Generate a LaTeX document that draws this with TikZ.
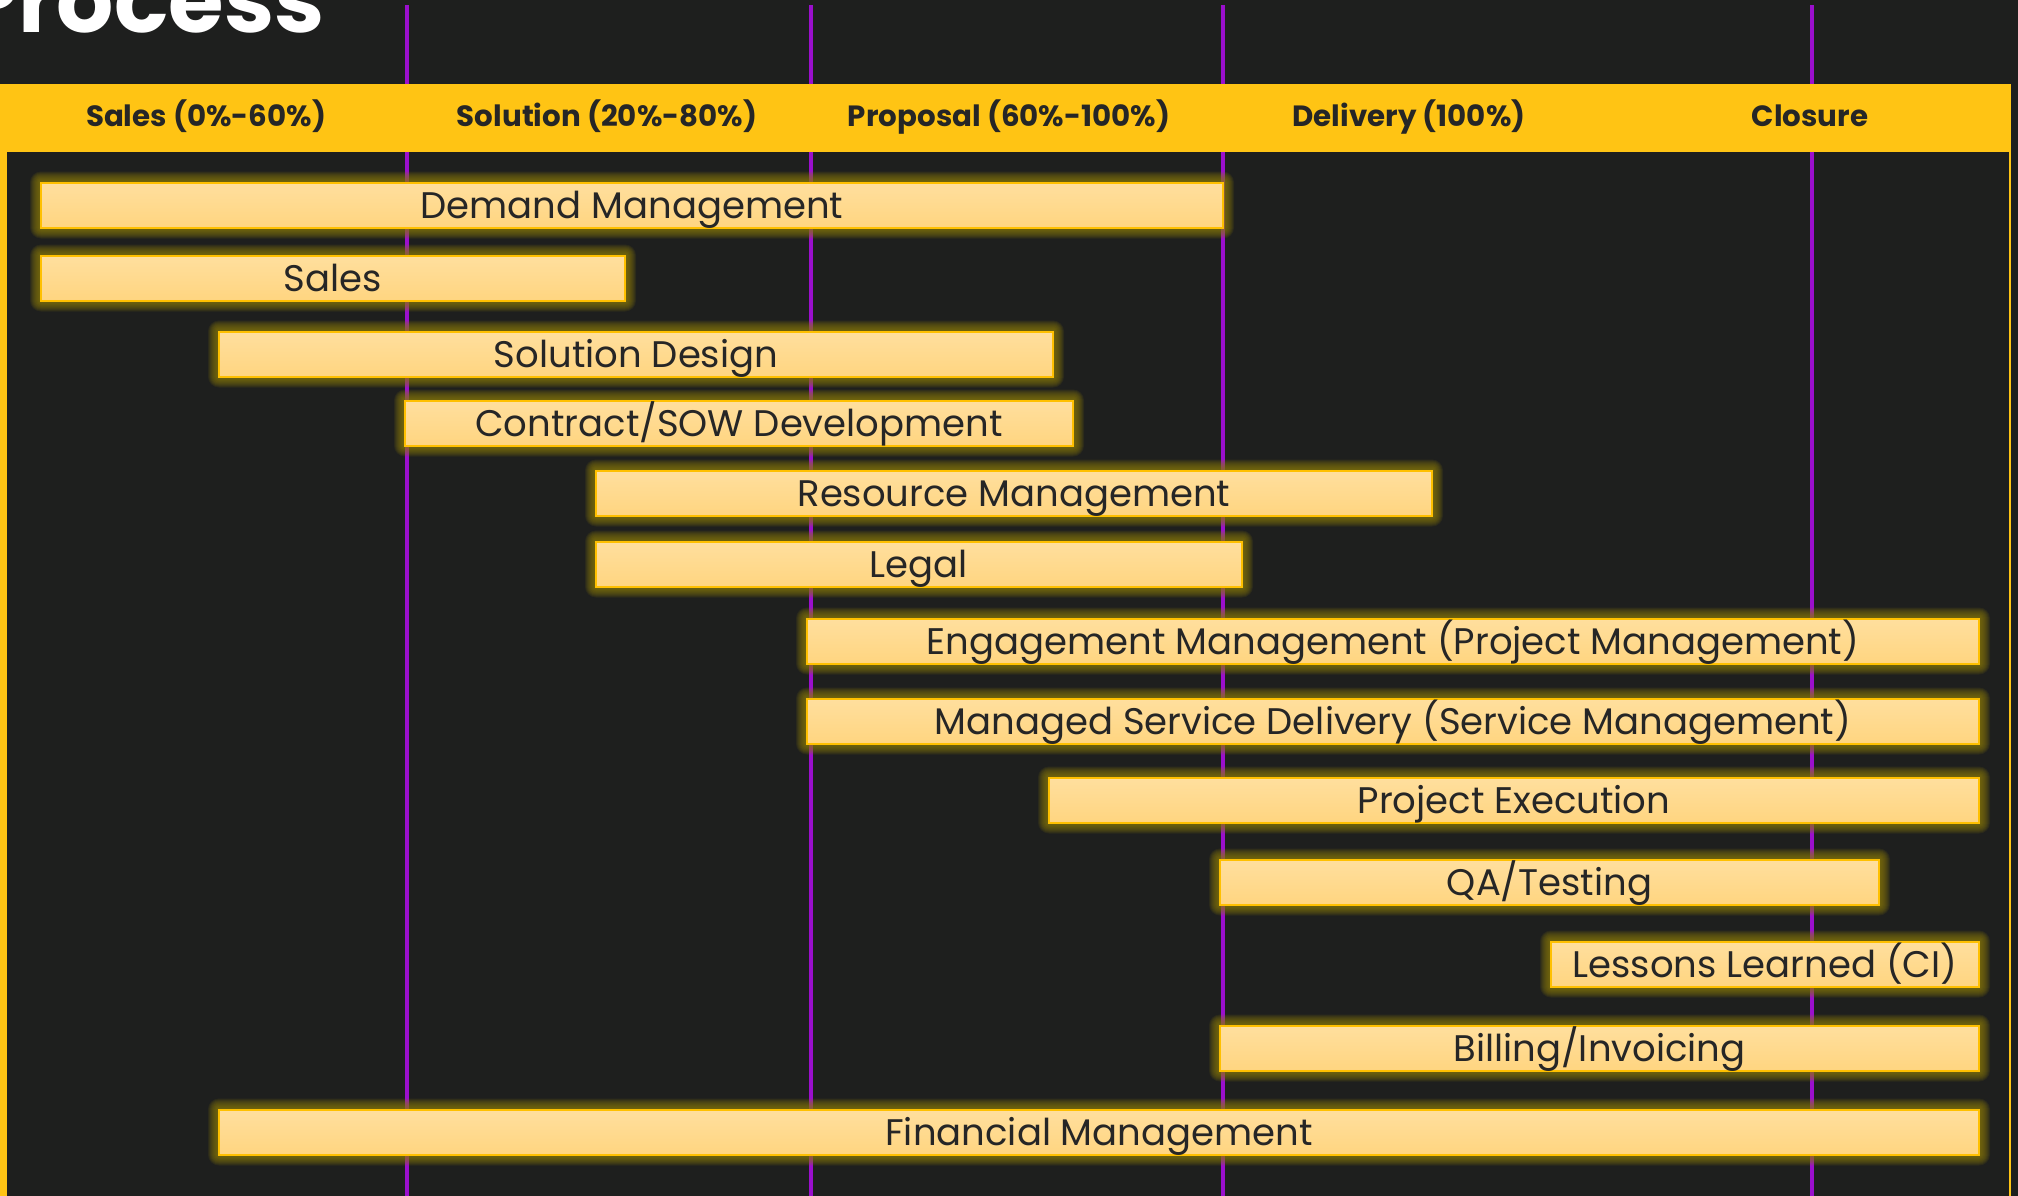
\documentclass[tikz,border=0pt]{standalone}
\usepackage{fontspec}
\setmainfont{Poppins}
\definecolor{bgc}{RGB}{30,31,30}
\definecolor{hdr}{RGB}{255,196,20}
\definecolor{purp}{RGB}{155,15,205}
\definecolor{bartop}{RGB}{255,223,158}
\definecolor{barbot}{RGB}{255,213,128}
\definecolor{barline}{RGB}{255,192,0}
\definecolor{glowc}{RGB}{138,122,10}
\definecolor{txt}{RGB}{38,38,38}
\pgfdeclarelayer{back}
\pgfdeclarelayer{glow}
\pgfsetlayers{back,glow,main}
% one bar of the chart: name, left, right, vertical centre, label
\newcommand\ganttbar[5]{%
  \begin{pgfonlayer}{glow}
    \foreach \g in {1,...,11}{%
      \fill[glowc, opacity=0.13, rounded corners=\g pt]
        ({#2-\g},{#4-22.5-\g}) rectangle ({#3+\g},{#4+22.5+\g});
    }%
  \end{pgfonlayer}
  \node[barbox, minimum width={#3-#2}] (#1) at ({(#2+#3)/2},#4) {#5};
}
\begin{document}
\begin{tikzpicture}[x=1pt,y=-1pt,
  barbox/.style={draw=barline, line width=2pt, top color=bartop, bottom color=barbot,
    minimum height=45pt, inner sep=0pt, text height=26.5pt, text depth=0pt,
    font=\fontsize{37}{39}\selectfont, text=txt},
  phase/.style={inner sep=0pt, text height=21.5pt, text depth=0pt,
    font=\fontsize{29.3}{31}\selectfont\bfseries, text=txt},
  divider/.style={draw=purp, line width=4pt}]
\useasboundingbox (0,0) rectangle (2018,1196);
\clip (0,0) rectangle (2018,1196);
\begin{pgfonlayer}{back}
  \fill[bgc] (0,0) rectangle (2018,1196);
  % phase dividers
  \coordinate (d1t) at (407,5);  \coordinate (d1b) at (407,1196);
  \coordinate (d2t) at (811,5);  \coordinate (d2b) at (811,1196);
  \coordinate (d3t) at (1223,5); \coordinate (d3b) at (1223,1196);
  \coordinate (d4t) at (1812,5); \coordinate (d4b) at (1812,1196);
  \draw[divider] (d1t) -- (d1b);
  \draw[divider] (d2t) -- (d2b);
  \draw[divider] (d3t) -- (d3b);
  \draw[divider] (d4t) -- (d4b);
  % header band and frame
  \fill[hdr] (0,84) rectangle (2011,152);
  \fill[hdr] (0,152) rectangle (7,1196);
  \fill[hdr] (2009,152) rectangle (2011,1196);
\end{pgfonlayer}
% title
\node[anchor=base west, inner sep=0pt, text=white,
  font=\fontsize{90}{90}\selectfont\bfseries] (title) at (-38,33) {Process};
% phase headings
\node[phase] (h1) at (206,116) {Sales (0\%-60\%)};
\node[phase] (h2) at (607,116) {Solution (20\%-80\%)};
\node[phase] (h3) at (1009,116) {Proposal (60\%-100\%)};
\node[phase] (h4) at (1409,116) {Delivery (100\%)};
\node[phase] (h5) at (1810,116) {Closure};
% activity bars
\ganttbar{b1}{41}{1223}{205}{Demand Management}
\ganttbar{b2}{41}{625}{278}{Sales}
\ganttbar{b3}{219}{1053}{354}{Solution Design}
\ganttbar{b4}{405}{1073}{423}{Contract/SOW Development}
\ganttbar{b5}{596}{1432}{493}{Resource Management}
\ganttbar{b6}{596}{1242}{564}{Legal}
\ganttbar{b7}{807}{1979}{641}{Engagement Management (Project Management)}
\ganttbar{b8}{807}{1979}{721}{Managed Service Delivery (Service Management)}
\ganttbar{b9}{1049}{1979}{800}{Project Execution}
\ganttbar{b10}{1220}{1879}{882}{QA/Testing}
\ganttbar{b11}{1551}{1979}{964}{Lessons Learned (CI)}
\ganttbar{b12}{1220}{1979}{1048}{Billing/Invoicing}
\ganttbar{b13}{219}{1979}{1132}{Financial Management}
\end{tikzpicture}
\end{document}
